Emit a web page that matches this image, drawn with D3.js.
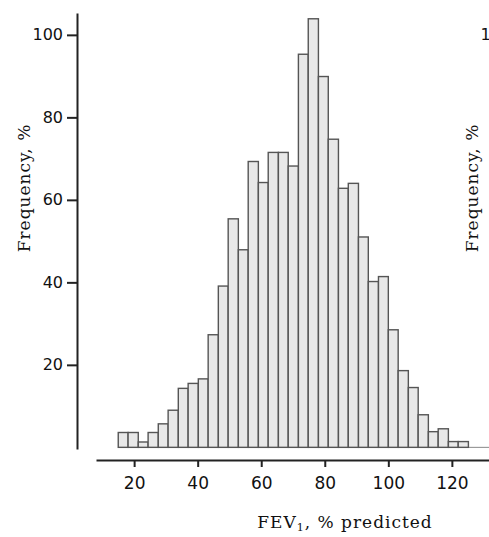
<!DOCTYPE html>
<html>
<head>
<meta charset="utf-8">
<script src="https://cdn.jsdelivr.net/npm/d3@7"></script>
<style>
  body { margin: 0; background: #fff; }
  svg { display: block; }
</style>
</head>
<body>
<svg id="hist" width="489" height="537"></svg>
<script>
// bin edges, FEV1 % predicted
const binEdges = [15, 18.1, 21.3, 24.4, 27.6, 30.7, 33.9, 37.0, 40.2, 43.3, 46.5, 49.6,
  52.8, 55.9, 59.1, 62.2, 65.4, 68.5, 71.7, 74.8, 78.0, 81.1, 84.3, 87.4, 90.6, 93.7,
  96.9, 100.0, 103.1, 106.3, 109.4, 112.6, 115.7, 118.9, 122.0, 125.2]

// frequency per bin
const frequency = [3.6, 3.6, 1.3, 3.6, 5.7, 9, 14.3, 15.5, 16.6, 27.3, 39.1, 55.4,
  47.9, 69.3, 64.2, 71.5, 71.5, 68.2, 95.3, 103.9, 89.9, 74.7, 62.8, 64, 51, 40.2,
  41.4, 28.5, 18.6, 14.5, 7.9, 3.8, 4.5, 1.4, 1.4]

const xTicks = [20, 40, 60, 80, 100, 120]
const yTicks = [20, 40, 60, 80, 100]

document.addEventListener('DOMContentLoaded', function () {
  drawHistogram()
})

function drawYAxis(g, y, ticks) {
  g.append('g')
    .attr('transform', 'translate(77,0)')
    .call(d3.axisLeft(y).tickValues(ticks).tickSize(10).tickSizeOuter(0).tickPadding(4))
    .call(a => a.select('.domain').attr('stroke', '#222').attr('stroke-width', 2))
    .call(a => a.selectAll('.tick line').attr('stroke', '#222').attr('stroke-width', 2))
    .call(a => a.selectAll('.tick text')
      .attr('fill', '#111')
      .style('font-family', 'DejaVu Sans, sans-serif')
      .style('font-size', '16px'))

  g.append('text')
    .attr('transform', 'translate(30,188) rotate(-90)')
    .attr('text-anchor', 'middle')
    .attr('fill', '#111')
    .style('font-family', 'DejaVu Serif, serif')
    .style('font-size', '17px')
    .style('letter-spacing', '1px')
    .text('Frequency, %')
}

function drawHistogram() {
  const svg = d3.select('#hist')

  const x = d3.scaleLinear().domain([8, 132]).range([96, 490])
  const y = d3.scaleLinear().domain([-0.4, 105.3]).range([449, 13])

  const g = svg.append('g')

  // thin baseline under bars
  g.append('line')
    .attr('x1', x(17.5))
    .attr('x2', x(132))
    .attr('y1', y(0))
    .attr('y2', y(0))
    .attr('stroke', '#888')
    .attr('stroke-width', 1)

  g.append('g')
    .selectAll('rect')
    .data(frequency)
    .join('rect')
    .attr('x', (d, i) => x(binEdges[i]))
    .attr('y', d => y(d))
    .attr('width', (d, i) => x(binEdges[i + 1]) - x(binEdges[i]))
    .attr('height', d => y(0) - y(d))
    .attr('fill', '#e8e8e8')
    .attr('stroke', '#555')
    .attr('stroke-width', 1.4)

  drawYAxis(g, y, yTicks)

  // x axis
  g.append('g')
    .attr('transform', 'translate(0,460)')
    .call(d3.axisBottom(x).tickValues(xTicks).tickSize(7).tickSizeOuter(0).tickPadding(10))
    .call(a => a.select('.domain').attr('stroke', '#222').attr('stroke-width', 2))
    .call(a => a.selectAll('.tick line').attr('stroke', '#222').attr('stroke-width', 2))
    .call(a => a.selectAll('.tick text')
      .attr('fill', '#111')
      .style('font-family', 'DejaVu Sans, sans-serif')
      .style('font-size', '17px'))

  const title = g.append('text')
    .attr('x', 345)
    .attr('y', 528)
    .attr('text-anchor', 'middle')
    .attr('fill', '#111')
    .style('font-family', 'DejaVu Serif, serif')
    .style('font-size', '17px')
    .style('letter-spacing', '1px')
  title.append('tspan').text('FEV')
  title.append('tspan').attr('dy', 3).style('font-size', '11px').text('1')
  title.append('tspan').attr('dy', -3).text(', % predicted')

  // next panel, cut off by the right edge (only its top label shows)
  const g2 = svg.append('g').attr('transform', 'translate(448,0)')
  drawYAxis(g2, y, [100])
}
</script>
</body>
</html>
